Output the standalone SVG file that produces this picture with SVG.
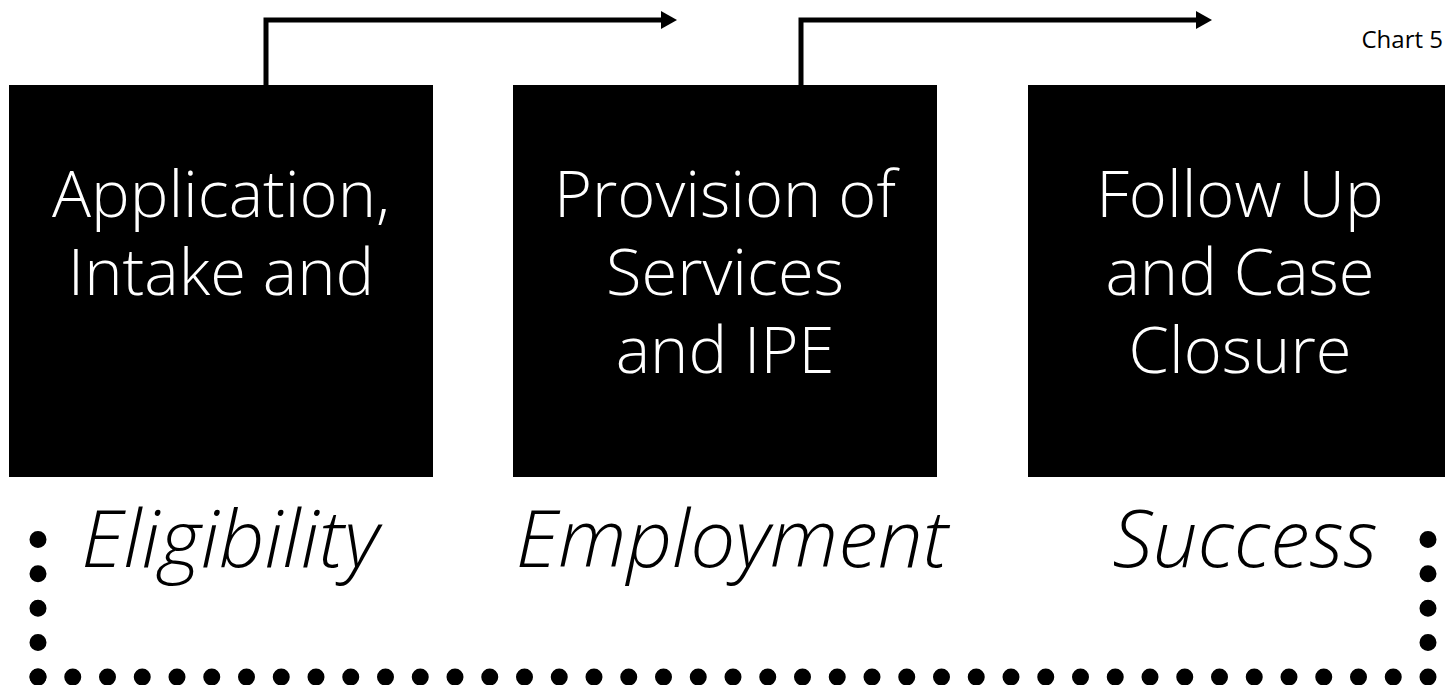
<svg xmlns="http://www.w3.org/2000/svg" width="1445" height="685" viewBox="0 0 1445 685">
  <style>
    .box { fill: #000000; }
    .boxtext { fill: #ffffff; font-family: "Open Sans", "Noto Sans", "Liberation Sans", sans-serif; font-weight: 300; font-size: 65px; text-anchor: middle; }
    .label { fill: #000000; font-family: "Open Sans", "Noto Sans", "Liberation Sans", sans-serif; font-weight: 300; font-style: italic; font-size: 80px; text-anchor: middle; }
    .conn { fill: none; stroke: #000000; stroke-width: 5; stroke-linejoin: miter; }
    .dots { fill: none; stroke: #000000; stroke-width: 17; stroke-linecap: round; }
    .caption { fill: #000000; font-family: "Open Sans", "Noto Sans", "Liberation Sans", sans-serif; font-size: 24px; text-anchor: end; }
  </style>
  <defs>
    <marker id="arrow" markerUnits="userSpaceOnUse" markerWidth="17" markerHeight="18" refX="1" refY="9" orient="auto">
      <path d="M0,0 L16,9 L0,18 Z" fill="#000000"/>
    </marker>
  </defs>
  <rect width="1445" height="685" fill="#ffffff"/>

  <g id="dotted-frame">
    <path class="dots" d="M38,677 L38,505" stroke-dasharray="0 34.4"/>
    <path class="dots" d="M38,677 L1428,677" stroke-dasharray="0 34.75"/>
    <path class="dots" d="M1428,677 L1428,505" stroke-dasharray="0 34.4"/>
  </g>

  <g id="connectors">
    <path class="conn" d="M266,85 V20 H662" marker-end="url(#arrow)"/>
    <path class="conn" d="M801,85 V20 H1197" marker-end="url(#arrow)"/>
  </g>

  <g id="node-application">
    <rect class="box" x="9" y="85" width="424" height="392"/>
    <text class="boxtext" x="221" y="217">Application,</text>
    <text class="boxtext" x="221" y="295">Intake and</text>
  </g>

  <g id="node-provision">
    <rect class="box" x="513" y="85" width="424" height="392"/>
    <text class="boxtext" x="725" y="217">Provision of</text>
    <text class="boxtext" x="725" y="295">Services</text>
    <text class="boxtext" x="725" y="373">and IPE</text>
  </g>

  <g id="node-followup">
    <rect class="box" x="1028" y="85" width="424" height="392"/>
    <text class="boxtext" x="1240" y="217">Follow Up</text>
    <text class="boxtext" x="1240" y="295">and Case</text>
    <text class="boxtext" x="1240" y="373">Closure</text>
  </g>

  <g id="labels">
    <text class="label" x="230" y="567">Eligibility</text>
    <text class="label" x="732" y="567">Employment</text>
    <text class="label" x="1245" y="567">Success</text>
  </g>

  <text class="caption" x="1443" y="48">Chart 5</text>
</svg>
